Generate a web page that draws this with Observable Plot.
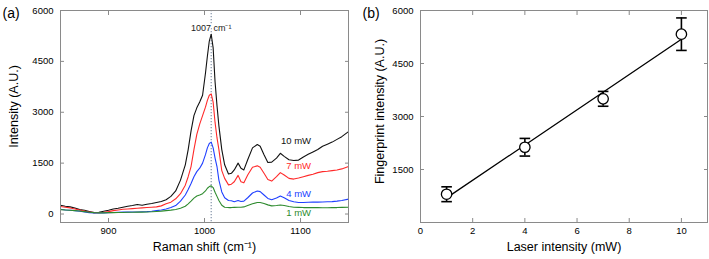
<!DOCTYPE html>
<html>
<head>
<meta charset="utf-8">
<script src="https://cdn.jsdelivr.net/npm/d3@7"></script>
<script src="https://cdn.jsdelivr.net/npm/@observablehq/plot@0.6"></script>
<style>
  html, body { margin: 0; padding: 0; background: white; }
  #wrap { position: relative; width: 709px; height: 259px; overflow: hidden; background: white; }
  #wrap > div { position: absolute; top: 0; }
</style>
</head>
<body>
<div id="wrap"><div id="pa" style="left:0"></div><div id="pb" style="left:360px"></div></div>
<script>
// ---------- Panel (a): Raman spectra ----------
const wavenumbers = [850,855,860,865,870,875,880,885,890,895,900,905,910,915,920,925,930,935,940,945,950,955,960,965,970,975,980,
  983,986,989,992,995,998,1001,1003,1005,1007,1009,1011,1013,1015,
  1018,1021,1025,1028,1031,1035,1038,1041,1045,1050,1055,1058,1062,1066,1070,1075,1079,1083,1088,1093,1098,
  1103,1108,1113,1118,1123,1128,1133,1138,1143,1150];

const intensity10mW = [260,230,210,180,130,110,70,40,50,80,110,150,170,200,230,250,280,260,290,310,340,370,420,520,680,1000,1450,
  1900,2450,2900,3130,3300,3500,4150,4650,5100,5300,4900,3900,3200,2600,
  1900,1450,1180,1200,1300,1500,1350,1300,1600,1950,2050,2000,1750,1520,1530,1650,1790,1700,1600,1580,1590,
  1680,1760,1830,1900,2000,2060,2120,2200,2280,2430];

const intensity7mW = [220,200,180,150,120,90,60,40,40,50,70,100,120,140,150,160,170,180,190,200,210,240,300,350,450,600,850,
  1100,1400,1900,2350,2650,2900,3150,3350,3500,3540,3300,2700,2250,1900,
  1280,1050,860,880,950,1140,950,920,1150,1380,1420,1380,1200,1020,970,1100,1220,1150,1050,1030,1060,
  1100,1140,1170,1220,1250,1260,1280,1300,1330,1400];

const intensity4mW = [140,120,110,100,80,60,40,30,30,30,40,45,50,55,55,60,60,65,70,80,100,120,150,190,250,380,560,
  720,900,1100,1250,1350,1500,1750,1950,2080,2120,1950,1650,1400,1000,
  650,480,400,390,360,400,370,380,480,620,680,660,560,460,420,470,530,480,400,360,340,
  340,345,350,350,355,360,365,380,400,440];

const intensity1mW = [130,120,110,100,90,70,50,40,35,35,40,40,45,45,50,50,55,55,60,65,75,85,100,115,135,170,230,
  300,380,470,530,560,600,680,760,810,830,780,640,520,400,
  260,200,190,190,195,200,200,210,250,300,340,340,310,270,240,250,265,250,220,200,195,
  190,190,190,190,185,185,190,190,195,200];

const seriesNames = ["10 mW", "7 mW", "4 mW", "1 mW"];
const seriesColors = ["#111111", "#ff2a2a", "#2040ff", "#2e8b2e"];
const seriesLabelX = [1111, 1111, 1111, 1111];
const seriesLabelY = [2150, 1410, 600, 35];
const peakPosition = [1007];
const xTicksA = [900, 1000, 1100];
const yTicksA = [0, 1500, 3000, 4500, 6000];

// ---------- Panel (b): fingerprint intensity vs laser power ----------
const laserPower = [1, 4, 7, 10];
const fingerprintIntensity = [800, 2130, 3500, 5330];
const fingerprintError = [210, 250, 210, 460];
const xTicksB = [0, 2, 4, 6, 8, 10];
const yTicksB = [1500, 3000, 4500, 6000];

const FONT = "'Liberation Sans', Arial, Helvetica, sans-serif";
const FRAME = "#8a8a8a";

const allSeries = [intensity10mW, intensity7mW, intensity4mW, intensity1mW];
const spectra = allSeries.flatMap((arr, k) => wavenumbers.map((w, i) => ({w, v: arr[i], s: seriesNames[k]})));
const labels = seriesNames.map((s, k) => ({s, x: seriesLabelX[k], y: seriesLabelY[k]}));
const fmt = d => String(d);

function frameAxes(xt, yt) {
  return [
    Plot.axisY(yt, {anchor: "left", tickSize: 0, tickPadding: 7, tickFormat: fmt, label: null}),
    Plot.axisY(yt, {anchor: "left", tickSize: -4, tickFormat: () => "", stroke: FRAME, label: null}),
    Plot.axisY(yt, {anchor: "right", tickSize: -4, tickFormat: () => "", stroke: FRAME, label: null}),
    Plot.axisX(xt, {anchor: "bottom", tickSize: 0, tickPadding: 5, tickFormat: fmt, label: null}),
    Plot.axisX(xt, {anchor: "bottom", tickSize: -4, tickFormat: () => "", stroke: FRAME, label: null}),
    Plot.axisX(xt, {anchor: "top", tickSize: -4, tickFormat: () => "", stroke: FRAME, label: null}),
    Plot.frame({stroke: FRAME})
  ];
}

const plotA = Plot.plot({
  width: 360, height: 259,
  marginLeft: 60, marginRight: 12, marginTop: 10, marginBottom: 37,
  style: {fontFamily: FONT, fontSize: "9.5px", background: "white", color: "black"},
  x: {domain: [850, 1150]},
  y: {domain: [-250, 6000]},
  color: {domain: seriesNames, range: seriesColors},
  marks: [
    Plot.ruleX(peakPosition, {x: d => d, stroke: "#8c9aae", strokeWidth: 1.3, strokeDasharray: "1.3,1.7"}),
    Plot.line(spectra, {x: "w", y: "v", z: "s", stroke: "s", strokeWidth: 1.1}),
    Plot.text(peakPosition, {x: d => d, frameAnchor: "top", dy: 14, text: d => `${d} cm⁻¹`, fontSize: 9, fill: "#222", stroke: "white", strokeWidth: 3}),
    Plot.text(labels, {x: "x", y: "y", text: "s", fill: "s", textAnchor: "end", fontSize: 9.5}),
    ...frameAxes(xTicksA, yTicksA),
    Plot.text(["Intensity (A.U.)"], {frameAnchor: "left", textAnchor: "middle", dx: -47, dy: -10, rotate: -90, fontSize: 12.5}),
    Plot.text(["Raman shift (cm⁻¹)"], {frameAnchor: "bottom", dy: 28, fontSize: 12.5}),
    Plot.text(["(a)"], {frameAnchor: "top-left", dx: -58, dy: -2, fontSize: 14, textAnchor: "start"})
  ]
});
document.getElementById("pa").appendChild(plotA);

const points = laserPower.map((x, i) => ({x, y: fingerprintIntensity[i], e: fingerprintError[i]}));
const capSymbol = {draw(context, size) { const r = Math.sqrt(size / Math.PI); context.moveTo(-r, 0); context.lineTo(r, 0); }};

const plotB = Plot.plot({
  width: 349, height: 259,
  marginLeft: 60, marginRight: 2, marginTop: 10, marginBottom: 37,
  style: {fontFamily: FONT, fontSize: "9.5px", background: "white", color: "black"},
  x: {domain: [0, 11]},
  y: {domain: [0, 6000]},
  marks: [
    Plot.linearRegressionY(points, {x: "x", y: "y", ci: 0, stroke: "black", strokeWidth: 1.3}),
    Plot.ruleX(points, {x: "x", y1: d => d.y - d.e, y2: d => d.y + d.e, stroke: "black", strokeWidth: 1.6}),
    Plot.dot(points, {x: "x", y: d => d.y + d.e, symbol: capSymbol, r: 5.3, stroke: "black", strokeWidth: 1.6}),
    Plot.dot(points, {x: "x", y: d => d.y - d.e, symbol: capSymbol, r: 5.3, stroke: "black", strokeWidth: 1.6}),
    Plot.dot(points, {x: "x", y: "y", r: 5.2, fill: "white", stroke: "black", strokeWidth: 1.3}),
    ...frameAxes(xTicksB, yTicksB),
    Plot.text(["Fingerprint intensity (A.U.)"], {frameAnchor: "left", textAnchor: "middle", dx: -41, dy: -5, rotate: -90, fontSize: 12.5}),
    Plot.text(["Laser intensity (mW)"], {frameAnchor: "bottom", dy: 28, fontSize: 12.5}),
    Plot.text(["(b)"], {frameAnchor: "top-left", dx: -58, dy: -2, fontSize: 14, textAnchor: "start"})
  ]
});
document.getElementById("pb").appendChild(plotB);
</script>
</body>
</html>
